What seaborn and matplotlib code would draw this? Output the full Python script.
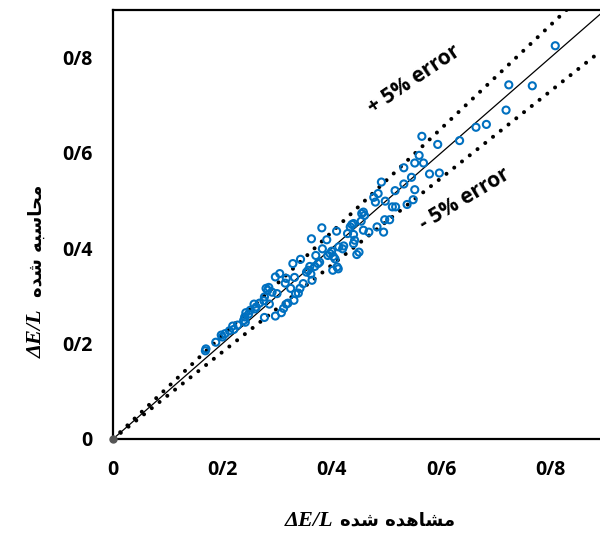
import matplotlib
matplotlib.use("Agg")
import matplotlib.pyplot as plt
import seaborn as sns
import pandas as pd

# ---- data (observed vs. computed dE/L) ----
observed = [0.170, 0.169, 0.188, 0.198, 0.200, 0.205, 0.213, 0.219, 0.221, 0.228,
            0.239, 0.241, 0.243, 0.242, 0.248, 0.251, 0.258, 0.260, 0.262, 0.268,
            0.276, 0.277, 0.280, 0.283, 0.285, 0.277, 0.297, 0.286, 0.291, 0.297,
            0.305, 0.300, 0.308, 0.312, 0.317, 0.320, 0.315, 0.317, 0.325, 0.329,
            0.332, 0.331, 0.334, 0.339, 0.342, 0.343, 0.348, 0.354, 0.357, 0.360,
            0.362, 0.369, 0.363, 0.364, 0.371, 0.375, 0.378, 0.382, 0.383, 0.391,
            0.393, 0.397, 0.400, 0.403, 0.406, 0.402, 0.410, 0.412, 0.409, 0.413,
            0.420, 0.422, 0.429, 0.434, 0.437, 0.440, 0.442, 0.446, 0.450, 0.455,
            0.458, 0.454, 0.460, 0.458, 0.468, 0.483, 0.495, 0.497, 0.477, 0.480,
            0.485, 0.491, 0.498, 0.511, 0.517, 0.516, 0.440, 0.440, 0.506, 0.532,
            0.546, 0.579, 0.597, 0.532, 0.552, 0.538, 0.549, 0.552, 0.568, 0.560,
            0.565, 0.594, 0.634, 0.664, 0.683, 0.719, 0.724, 0.767, 0.809]
computed = [0.189, 0.185, 0.203, 0.218, 0.214, 0.221, 0.227, 0.237, 0.230, 0.239,
            0.249, 0.256, 0.265, 0.245, 0.262, 0.270, 0.283, 0.273, 0.277, 0.285,
            0.290, 0.298, 0.316, 0.312, 0.318, 0.255, 0.258, 0.283, 0.308, 0.340,
            0.347, 0.305, 0.265, 0.274, 0.283, 0.285, 0.327, 0.337, 0.316, 0.368,
            0.339, 0.291, 0.305, 0.306, 0.316, 0.377, 0.326, 0.350, 0.354, 0.362,
            0.346, 0.362, 0.420, 0.333, 0.385, 0.368, 0.371, 0.443, 0.399, 0.418,
            0.385, 0.389, 0.394, 0.383, 0.378, 0.354, 0.361, 0.357, 0.436, 0.403,
            0.399, 0.405, 0.431, 0.445, 0.450, 0.429, 0.417, 0.387, 0.392, 0.473,
            0.476, 0.457, 0.469, 0.438, 0.434, 0.445, 0.434, 0.460, 0.507, 0.497,
            0.515, 0.539, 0.499, 0.487, 0.487, 0.521, 0.452, 0.410, 0.460, 0.569,
            0.549, 0.556, 0.558, 0.535, 0.523, 0.492, 0.502, 0.579, 0.579, 0.595,
            0.635, 0.618, 0.626, 0.654, 0.660, 0.690, 0.743, 0.741, 0.825]

ticks = [0, 0.2, 0.4, 0.6, 0.8]
tick_labels = ["0", "0/2", "0/4", "0/6", "0/8"]
upper_slope = 1.085
lower_slope = 0.912
upper_label = "+ 5% error"
lower_label = "- 5% error"
# Persian labels in visual (shaped, left-to-right) order
x_label_fa = "\uFEE9\uFEAA\uFEB7 \uFEE9\uFEAA\uFEEB\uFE8E\uFEB8\uFEE3"  # مشاهده شده
y_label_fa = "\uFEE9\uFEAA\uFEB7 \uFEEA\uFE92\uFEB3\uFE8E\uFEA4\uFEE3"  # محاسبه شده
sym_label = "\u0394E/L"

df = pd.DataFrame({"observed": observed, "computed": computed})

sns.set_style("white")
FONT = ["Open Sans", "DejaVu Sans"]
plt.rcParams["font.family"] = FONT
plt.rcParams["text.color"] = "black"
plt.rcParams["xtick.color"] = "black"
plt.rcParams["ytick.color"] = "black"
plt.rcParams["xtick.labelcolor"] = "black"
plt.rcParams["ytick.labelcolor"] = "black"

W, H = 600, 534
fig = plt.figure(figsize=(W / 100, H / 100), dpi=100)
ax = fig.add_axes([113 / W, 95 / H, 492 / W, 429 / H])

# reference lines
ax.axline((0, 0), slope=1.0, color="black", lw=0.9, zorder=2)
for s in (upper_slope, lower_slope):
    ax.axline((0, 0), slope=s, color="black", lw=2.9,
              linestyle=(0, (0.01, 2.45)), dash_capstyle="round", zorder=2)

sns.scatterplot(data=df, x="observed", y="computed", ax=ax, marker="o",
                s=26, facecolor="none", edgecolor="#0070C0", linewidth=1.5,
                zorder=3, legend=False)
ax.plot([0], [0], marker="o", ms=5, color="#555555", zorder=4, clip_on=False)

ax.set_xlim(0, 0.9)
ax.set_ylim(0, 0.9)
ax.set_xticks(ticks)
ax.set_xticklabels(tick_labels)
ax.set_yticks(ticks)
ax.set_yticklabels(tick_labels)
ax.tick_params(direction="in", length=5, width=1.5, pad=15, labelsize=14,
               colors="black")
for lab in ax.get_xticklabels() + ax.get_yticklabels():
    lab.set_fontweight("bold")
for side in ("left", "bottom", "top", "right"):
    ax.spines[side].set_linewidth(1.6)
    ax.spines[side].set_color("black")
ax.set_xlabel("")
ax.set_ylabel("")

ax.text(0.551, 0.754, upper_label, rotation=34, ha="center", va="center",
        fontsize=15, fontweight="bold", family=FONT, color="black")
ax.text(0.643, 0.503, lower_label, rotation=31, ha="center", va="center",
        fontsize=15, fontweight="bold", family=FONT, color="black")

# x label
fig.text(333 / W, 8 / H, sym_label, ha="right", va="baseline", fontsize=16,
         fontweight="bold", fontstyle="italic", family="Liberation Serif",
         color="black")
fig.text(340 / W, 8 / H, x_label_fa, ha="left", va="baseline", fontsize=13,
         fontweight="bold", family=["DejaVu Sans"], color="black")
# y label
fig.text(42 / W, 1 - 358 / H, sym_label, rotation=90, rotation_mode="anchor",
         ha="left", va="baseline", fontsize=16, fontweight="bold",
         fontstyle="italic", family="Liberation Serif", color="black")
fig.text(42 / W, 1 - 297 / H, y_label_fa, rotation=90, rotation_mode="anchor",
         ha="left", va="baseline", fontsize=13, fontweight="bold",
         family=["DejaVu Sans"], color="black")

fig.savefig("out.png", dpi=100)
